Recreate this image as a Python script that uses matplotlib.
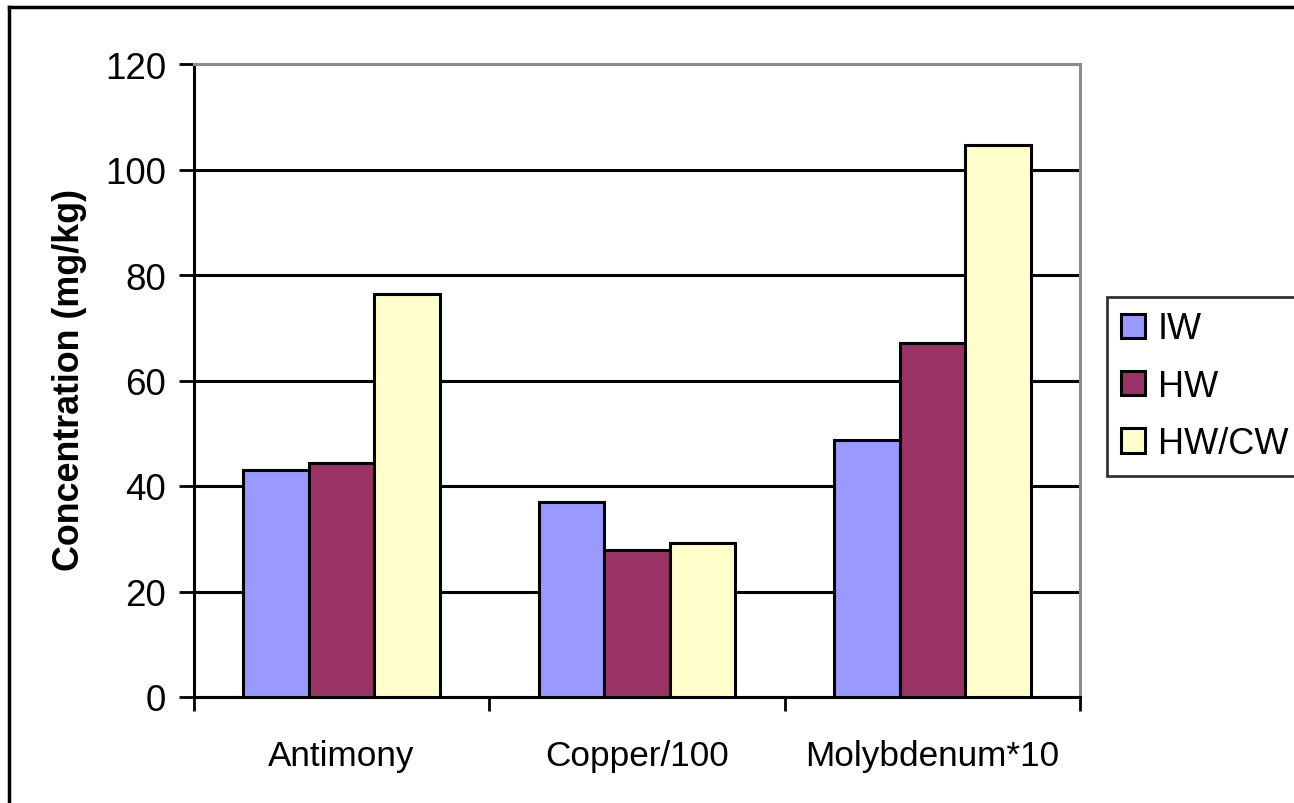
import matplotlib
matplotlib.use("Agg")
import matplotlib.pyplot as plt
import numpy as np
from matplotlib.lines import Line2D

plt.rcParams['font.family'] = ['Liberation Sans', 'DejaVu Sans']

categories = ["Antimony", "Copper/100", "Molybdenum*10"]
series_names = ["IW", "HW", "HW/CW"]
iw = [43.0, 36.9, 48.7]
hw = [44.4, 27.9, 67.2]
hwcw = [76.4, 29.1, 104.7]
yticks = [0, 20, 40, 60, 80, 100, 120]
colors = ["#9999FF", "#993366", "#FFFFCC"]

W, H = 1294, 804
fig = plt.figure(figsize=(W / 100, H / 100), dpi=100)
ax = fig.add_axes([194 / W, 1 - 698 / H, (1080 - 194) / W, (698 - 65) / H])

x = np.arange(len(categories))
bw = 0.222
for i, (vals, name) in enumerate(zip([iw, hw, hwcw], series_names)):
    ax.bar(x + (i - 1) * bw, vals, width=bw, color=colors[i], edgecolor="black",
           linewidth=2.2, label=name, zorder=3)

ax.set_xlim(-0.5, 2.5)
ax.set_ylim(0, 120)
ax.set_yticks(yticks)
ax.yaxis.grid(True, color="black", linewidth=2.2, zorder=0)
ax.set_axisbelow(True)

ax.set_xticks(x)
ax.set_xticklabels(categories, fontsize=25.3)
ax.set_xticks([-0.5, 0.5, 1.5, 2.5], minor=True)
ax.tick_params(axis="x", which="major", length=0, pad=30)
ax.tick_params(axis="x", which="minor", length=10, width=2, direction="out")
ax.tick_params(axis="y", which="major", length=11, width=2, direction="out", labelsize=26.5, pad=9)

for s in ["left", "bottom"]:
    ax.spines[s].set_color("black")
    ax.spines[s].set_linewidth(2.2)
for s in ["top", "right"]:
    ax.spines[s].set_color("#8c8c8c")
    ax.spines[s].set_linewidth(2.2)

fig.text(70 / W, 1 - 380 / H, "Concentration (mg/kg)", rotation=90, fontsize=25.8,
         fontweight="bold", ha="center", va="center")

leg = ax.legend(loc="upper left", bbox_to_anchor=(1107 / W, 1 - 462 / H, 200 / W, 164 / H),
                bbox_transform=fig.transFigure, mode="expand", fontsize=26,
                frameon=True, fancybox=False, edgecolor="black", handlelength=0.65,
                handleheight=0.65, handletextpad=0.35, borderpad=0.4, labelspacing=0.62,
                borderaxespad=0)
leg.get_frame().set_linewidth(2)

# figure border (top and left)
fig.add_artist(Line2D([9 / W, 9 / W], [0, 1 - 8 / H], transform=fig.transFigure, color="black", linewidth=2.5))
fig.add_artist(Line2D([9 / W, 1], [1 - 8 / H, 1 - 8 / H], transform=fig.transFigure, color="black", linewidth=2.5))

fig.savefig("out.png", dpi=100)
